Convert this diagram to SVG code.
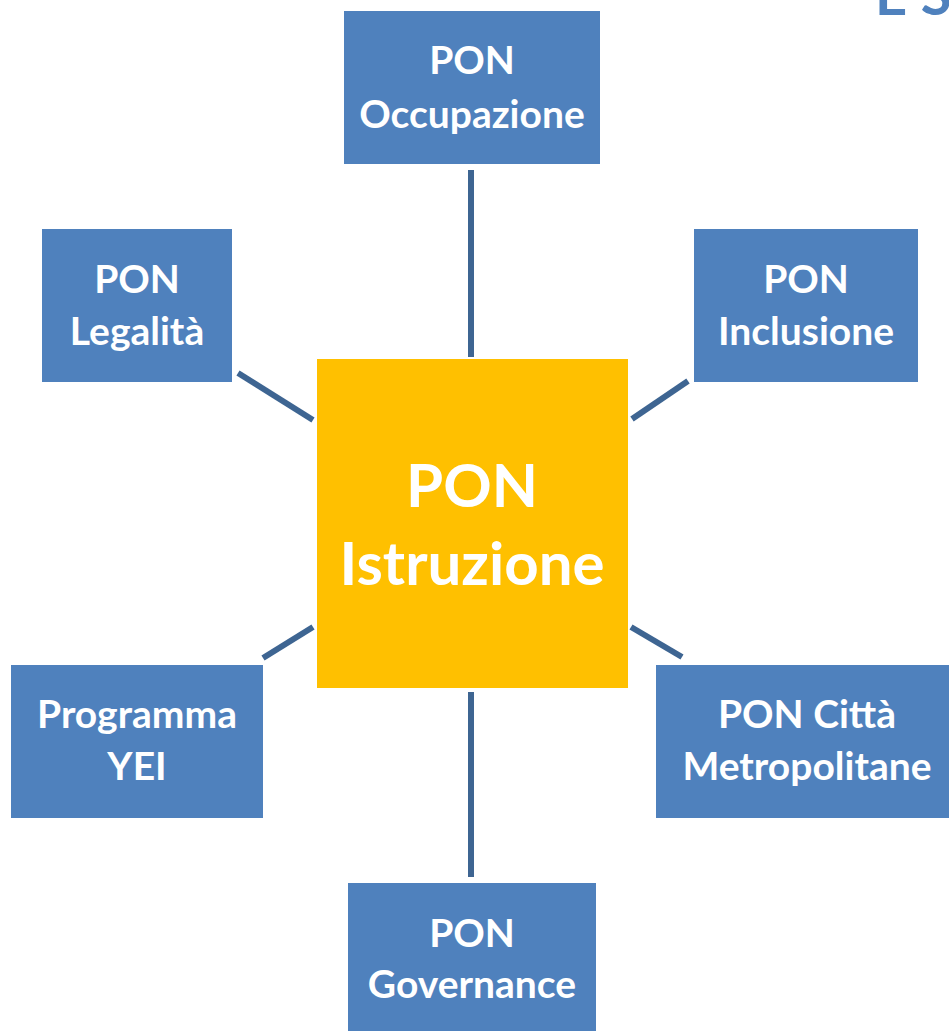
<svg xmlns="http://www.w3.org/2000/svg" width="949" height="1031" viewBox="0 0 949 1031">
<style>
.box{fill:#4f81bd;}
.core{fill:#ffc000;}
.lbl{font-family:Lato,"Open Sans","Liberation Sans",sans-serif;font-weight:bold;font-size:39px;fill:#ffffff;text-anchor:middle;}
.big{font-size:60px;}
.conn line{stroke:#3e6592;stroke-width:6;stroke-linecap:butt;}
.title{font-family:Lato,"Open Sans","Liberation Sans",sans-serif;font-weight:bold;font-size:56px;fill:#4f81bd;}
</style>
<rect width="949" height="1031" fill="#ffffff"/>
<text class="title" x="875" y="15">E S</text>
<g id="connectors" class="conn">
<line x1="471" y1="170" x2="471" y2="357"/>
<line x1="471" y1="692" x2="471" y2="877"/>
<line x1="238" y1="373" x2="313" y2="420"/>
<line x1="688" y1="381" x2="632" y2="419"/>
<line x1="263" y1="658" x2="313" y2="627"/>
<line x1="631" y1="627" x2="682" y2="657"/>
</g>
<g id="node-istruzione">
<rect class="core" x="317" y="359" width="311" height="329"/>
<text class="lbl big" x="472" y="507">PON</text>
<text class="lbl big" x="472" y="585">Istruzione</text>
</g>
<g id="node-occupazione">
<rect class="box" x="344" y="11" width="256" height="153"/>
<text class="lbl" x="472" y="74">PON</text>
<text class="lbl" x="472" y="128">Occupazione</text>
</g>
<g id="node-legalita">
<rect class="box" x="42" y="229" width="190" height="153"/>
<text class="lbl" x="137" y="293">PON</text>
<text class="lbl" x="137" y="345">Legalità</text>
</g>
<g id="node-inclusione">
<rect class="box" x="694" y="229" width="224" height="153"/>
<text class="lbl" x="806" y="293">PON</text>
<text class="lbl" x="806" y="345">Inclusione</text>
</g>
<g id="node-yei">
<rect class="box" x="11" y="665" width="252" height="153"/>
<text class="lbl" x="137" y="728">Programma</text>
<text class="lbl" x="137" y="780">YEI</text>
</g>
<g id="node-citta">
<rect class="box" x="656" y="665" width="300" height="153"/>
<text class="lbl" x="807" y="728">PON Città</text>
<text class="lbl" x="807" y="780">Metropolitane</text>
</g>
<g id="node-governance">
<rect class="box" x="348" y="883" width="248" height="160"/>
<text class="lbl" x="472" y="947">PON</text>
<text class="lbl" x="472" y="998">Governance</text>
</g>
</svg>
